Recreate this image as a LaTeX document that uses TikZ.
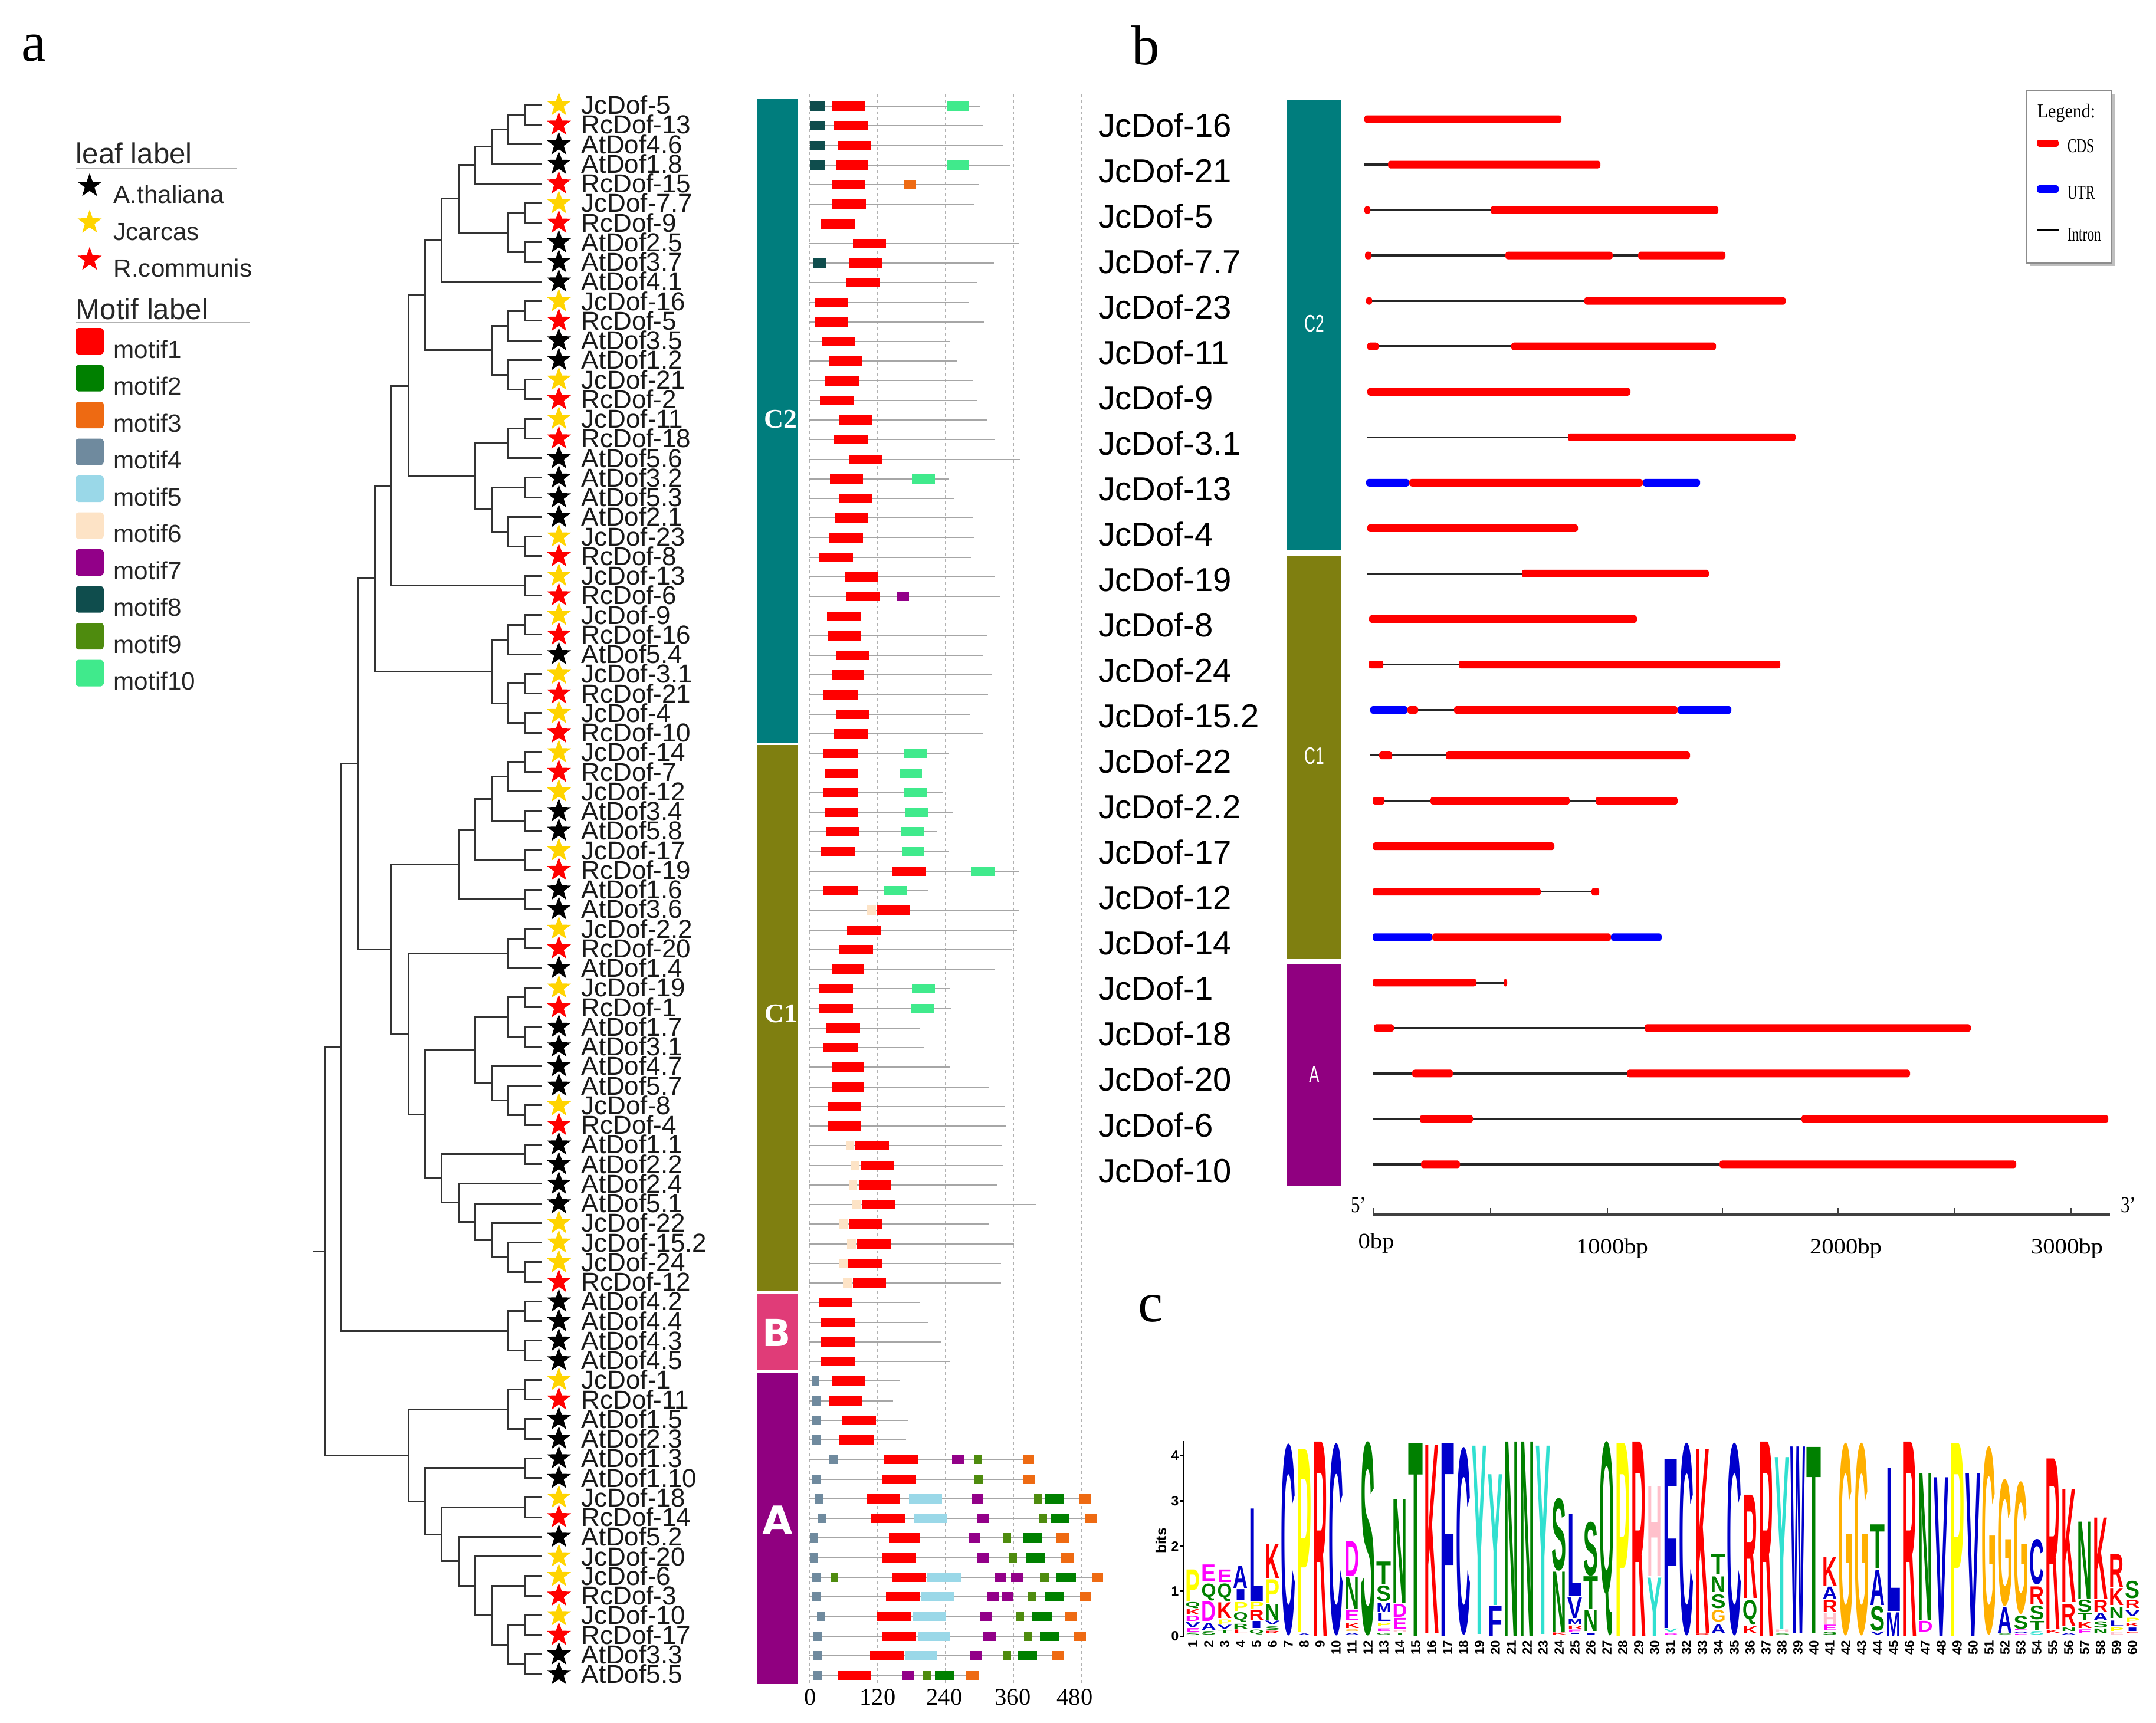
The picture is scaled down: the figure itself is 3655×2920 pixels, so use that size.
\documentclass[tikz,border=0pt]{standalone}
\usepackage{fontspec}
\setmainfont{Liberation Serif}
\newfontfamily\lsans{Liberation Sans}
\newfontfamily\dvs{DejaVu Sans}
\usepackage{graphicx}
\usetikzlibrary{calc,shapes.geometric}
\newcommand\fsz[1]{\fontsize{#1}{#1}\selectfont}
\definecolor{mc1}{HTML}{FF0000}
\definecolor{mc2}{HTML}{008000}
\definecolor{mc3}{HTML}{EE6A12}
\definecolor{mc4}{HTML}{6F8A9E}
\definecolor{mc5}{HTML}{9AD8E8}
\definecolor{mc6}{HTML}{FDE3C6}
\definecolor{mc7}{HTML}{920088}
\definecolor{mc8}{HTML}{0F4D4D}
\definecolor{mc9}{HTML}{4E8B0E}
\definecolor{mc10}{HTML}{40EA8C}
\definecolor{spJ}{HTML}{FFD400}
\definecolor{spR}{HTML}{FF0000}
\definecolor{spA}{HTML}{000000}
\definecolor{grC2}{HTML}{007D7D}
\definecolor{grC1}{HTML}{7F7F10}
\definecolor{grB}{HTML}{E03C78}
\definecolor{grA}{HTML}{900080}
\definecolor{gc}{HTML}{FF0000}
\definecolor{gu}{HTML}{0000FF}
\definecolor{lB}{HTML}{0000CC}
\definecolor{lR}{HTML}{FF0000}
\definecolor{lG}{HTML}{008000}
\definecolor{lY}{HTML}{FFFF00}
\definecolor{lO}{HTML}{FFB000}
\definecolor{lT}{HTML}{30E0D0}
\definecolor{lP}{HTML}{FFC0CB}
\definecolor{lM}{HTML}{FF00FF}
\newcount\lgc
\newcommand\treenode[4]{%
  \coordinate (tmpa) at ($(#3)!0.5!(#4)$);
  \coordinate (tmpb) at ({918.5-28.3*#2},0);
  \coordinate (#1) at (tmpb |- tmpa);
  \draw[tree] (#3) -| (#1) |- (#4);}
\newcommand\motifrow[3]{%
  \pgfmathsetmacro\ry{180+33.25*(#1-1)}%
  \draw[rowline] (1372,\ry) -- ({1372+0.9617*#2},\ry);%
  \foreach \m/\a/\b in {#3}{%
    \fill[fill=mc\m] ({1372+0.9617*\a},{\ry-8}) rectangle ({1372+0.9617*\b},{\ry+8});}%
}
\newcommand\generow[4]{%
  \pgfmathsetmacro\gy{202+77.04*(#1-1)}%
  \draw[intron] (#2,\gy) -- (#3,\gy);%
  \foreach \t/\a/\b in {#4}{%
    \fill[fill=g\t, rounded corners=1.2pt] (\a,{\gy-6.5}) rectangle (\b,{\gy+6.5});}%
}
\newcommand\logoL[5]{%
  \pgfmathtruncatemacro\lgok{((#3)-(#2))>0.045}%
  \ifnum\lgok=1
  \global\advance\lgc by 1
  \pgfmathsetlengthmacro\lgh{max(0.02cm,(#3-#2)*0.765cm-0.018cm)}%
  \node[logo, text=#5] (lg\the\lgc) at ({2022+27*(#1-1)},{2773-76.5*#2}) {\resizebox*{0.25cm}{\lgh}{\lsans\bfseries #4}};
  \fi}
\begin{document}
\begin{tikzpicture}[x=0.01cm,y=-0.01cm,
  tree/.style={draw=black!80, line width=0.85pt},
  rowline/.style={draw=black!35, line width=0.55pt},
  grid/.style={draw=black!30, line width=0.55pt, dash pattern=on 1.4pt off 1.4pt},
  intron/.style={draw=black!85, line width=1pt},
  leaflab/.style={anchor=west, inner sep=0pt, font=\lsans\fsz{12.5}, text=black!90},
  sp/.style={star, star points=5, star point ratio=2.5, minimum size=0.43cm, inner sep=0pt, draw=none},
  logo/.style={inner sep=0pt, outer sep=0pt, anchor=south},
  legtxt/.style={anchor=base west, inner sep=0pt, font=\lsans\fsz{12}, text=black!85},
  plab/.style={inner sep=0pt, font=\fsz{27}}]
\fill[white] (0,0) rectangle (3655,2920);
\useasboundingbox (0,0) rectangle (3655,2920);
% panel labels
\node[plab] (pa) at (58,82) {a};
\node[plab] (pb) at (1942,77) {b};
\node[plab] (pc) at (1951,2219) {c};
% ---------- legend a
\node[anchor=base west, inner sep=0pt, font=\lsans\fsz{14}, text=black!85] (ll) at (128,277) {leaf label};
\draw[black!30, line width=0.8pt] (128,285) -- (402,285);
\node[sp, fill=spA] (ls1) at (152,315) {};
\node[sp, fill=spJ] (ls2) at (152,377) {};
\node[sp, fill=spR] (ls3) at (152,440) {};
\node[legtxt] (lt1) at (192,344) {A.thaliana};
\node[legtxt] (lt2) at (192,407) {Jcarcas};
\node[legtxt] (lt3) at (192,469) {R.communis};
\node[anchor=base west, inner sep=0pt, font=\lsans\fsz{14}, text=black!85] (mlab) at (128,541) {Motif label};
\draw[black!30, line width=0.8pt] (128,547) -- (423,547);
\foreach \k in {1,...,10}{
  \fill[fill=mc\k, rounded corners=1.5pt] (128,{556+62.5*(\k-1)}) rectangle (176,{601+62.5*(\k-1)});
  \node[legtxt] (ml\k) at (192,{607+62.5*(\k-1)}) {motif\k};
}
% ---------- leaves
\foreach \i/\n/\s in {1/JcDof-5/J, 2/RcDof-13/R, 3/AtDof4.6/A, 4/AtDof1.8/A, 5/RcDof-15/R, 6/JcDof-7.7/J, 7/RcDof-9/R, 8/AtDof2.5/A, 9/AtDof3.7/A, 10/AtDof4.1/A, 11/JcDof-16/J, 12/RcDof-5/R, 13/AtDof3.5/A, 14/AtDof1.2/A, 15/JcDof-21/J, 16/RcDof-2/R, 17/JcDof-11/J, 18/RcDof-18/R, 19/AtDof5.6/A, 20/AtDof3.2/A, 21/AtDof5.3/A, 22/AtDof2.1/A, 23/JcDof-23/J, 24/RcDof-8/R, 25/JcDof-13/J, 26/RcDof-6/R, 27/JcDof-9/J, 28/RcDof-16/R, 29/AtDof5.4/A, 30/JcDof-3.1/J, 31/RcDof-21/R, 32/JcDof-4/J, 33/RcDof-10/R, 34/JcDof-14/J, 35/RcDof-7/R, 36/JcDof-12/J, 37/AtDof3.4/A, 38/AtDof5.8/A, 39/JcDof-17/J, 40/RcDof-19/R, 41/AtDof1.6/A, 42/AtDof3.6/A, 43/JcDof-2.2/J, 44/RcDof-20/R, 45/AtDof1.4/A, 46/JcDof-19/J, 47/RcDof-1/R, 48/AtDof1.7/A, 49/AtDof3.1/A, 50/AtDof4.7/A, 51/AtDof5.7/A, 52/JcDof-8/J, 53/RcDof-4/R, 54/AtDof1.1/A, 55/AtDof2.2/A, 56/AtDof2.4/A, 57/AtDof5.1/A, 58/JcDof-22/J, 59/JcDof-15.2/J, 60/JcDof-24/J, 61/RcDof-12/R, 62/AtDof4.2/A, 63/AtDof4.4/A, 64/AtDof4.3/A, 65/AtDof4.5/A, 66/JcDof-1/J, 67/RcDof-11/R, 68/AtDof1.5/A, 69/AtDof2.3/A, 70/AtDof1.3/A, 71/AtDof1.10/A, 72/JcDof-18/J, 73/RcDof-14/R, 74/AtDof5.2/A, 75/JcDof-20/J, 76/JcDof-6/J, 77/RcDof-3/R, 78/JcDof-10/J, 79/RcDof-17/R, 80/AtDof3.3/A, 81/AtDof5.5/A}{
  \pgfmathsetmacro\yy{178+33.25*(\i-1)}
  \coordinate (l\i) at (918.5,\yy);
  \node[sp, fill=sp\s] (s\i) at (947.5,\yy) {};
  \node[leaflab] (t\i) at (985,\yy) {\n};
}
% ---------- tree
\treenode{n1}{1}{l1}{l2}
\treenode{n2}{2}{n1}{l3}
\treenode{n3}{3}{n2}{l4}
\treenode{n4}{4}{n3}{l5}
\treenode{n5}{1}{l6}{l7}
\treenode{n6}{1}{l8}{l9}
\treenode{n7}{2}{n5}{n6}
\treenode{n8}{5}{n4}{n7}
\treenode{n9}{6}{n8}{l10}
\treenode{n10}{1}{l11}{l12}
\treenode{n11}{2}{n10}{l13}
\treenode{n12}{1}{l15}{l16}
\treenode{n13}{2}{l14}{n12}
\treenode{n14}{3}{n11}{n13}
\treenode{n15}{7}{n9}{n14}
\treenode{n16}{1}{l17}{l18}
\treenode{n17}{2}{n16}{l19}
\treenode{n18}{1}{l20}{l21}
\treenode{n19}{1}{l23}{l24}
\treenode{n20}{2}{l22}{n19}
\treenode{n21}{3}{n18}{n20}
\treenode{n22}{4}{n17}{n21}
\treenode{n23}{8}{n15}{n22}
\treenode{n24}{1}{l25}{l26}
\treenode{n25}{9}{n23}{n24}
\treenode{n26}{1}{l27}{l28}
\treenode{n27}{2}{n26}{l29}
\treenode{n28}{1}{l30}{l31}
\treenode{n29}{1}{l32}{l33}
\treenode{n30}{2}{n28}{n29}
\treenode{n31}{3}{n27}{n30}
\treenode{n32}{10}{n25}{n31}
\treenode{n33}{1}{l34}{l35}
\treenode{n34}{2}{n33}{l36}
\treenode{n35}{1}{l37}{l38}
\treenode{n36}{3}{n34}{n35}
\treenode{n37}{1}{l39}{l40}
\treenode{n38}{4}{n36}{n37}
\treenode{n39}{1}{l41}{l42}
\treenode{n40}{5}{n38}{n39}
\treenode{n41}{1}{l43}{l44}
\treenode{n42}{2}{n41}{l45}
\treenode{n43}{1}{l46}{l47}
\treenode{n44}{1}{l48}{l49}
\treenode{n45}{2}{n43}{n44}
\treenode{n46}{1}{l52}{l53}
\treenode{n47}{2}{l51}{n46}
\treenode{n48}{3}{l50}{n47}
\treenode{n49}{4}{n45}{n48}
\treenode{n50}{1}{l54}{l55}
\treenode{n51}{1}{l60}{l61}
\treenode{n52}{2}{l59}{n51}
\treenode{n53}{3}{l58}{n52}
\treenode{n54}{4}{l57}{n53}
\treenode{n55}{5}{l56}{n54}
\treenode{n56}{6}{n50}{n55}
\treenode{n57}{7}{n49}{n56}
\treenode{n58}{8}{n42}{n57}
\treenode{n59}{9}{n40}{n58}
\treenode{n60}{11}{n32}{n59}
\treenode{n61}{1}{l62}{l63}
\treenode{n62}{1}{l64}{l65}
\treenode{n63}{2}{n61}{n62}
\treenode{n64}{12}{n60}{n63}
\treenode{n65}{1}{l66}{l67}
\treenode{n66}{1}{l68}{l69}
\treenode{n67}{2}{n65}{n66}
\treenode{n68}{1}{l70}{l71}
\treenode{n69}{1}{l72}{l73}
\treenode{n70}{1}{l76}{l77}
\treenode{n71}{1}{l78}{l79}
\treenode{n72}{1}{l80}{l81}
\treenode{n73}{2}{n71}{n72}
\treenode{n74}{3}{n70}{n73}
\treenode{n75}{4}{l75}{n74}
\treenode{n76}{5}{l74}{n75}
\treenode{n77}{6}{n69}{n76}
\treenode{n78}{7}{n68}{n77}
\treenode{n79}{8}{n67}{n78}
\treenode{n80}{13}{n64}{n79}
\coordinate (rootend) at (530.6,0);
\draw[tree] (n80) -- (rootend |- n80);
% ---------- group bars a
\fill[grC2] (1284,167) rectangle (1352,1259);
\fill[grC1] (1284,1263) rectangle (1352,2189);
\fill[grB] (1284,2193) rectangle (1352,2323);
\fill[grA] (1284,2327) rectangle (1352,2855);
\node[text=white, font=\fsz{13}\bfseries] (ac2) at (1323,711) {C2};
\node[text=white, font=\fsz{13}\bfseries] (ac1) at (1324,1719) {C1};
\node[text=white, font=\dvs\bfseries\fsz{18}] (ab) at (1317,2259) {B};
\node[text=white, font=\dvs\bfseries\fsz{19}] (aa) at (1318,2577) {A};
% ---------- grid and axis a
\foreach \k/\lx in {0/1374,1/1488,2/1601,3/1717,4/1822}{
  \draw[grid] ({1372+115.4*\k},160) -- ({1372+115.4*\k},2858);
  \node[font=\fsz{11.5}, inner sep=0pt] (ax\k) at (\lx,2877) {\pgfmathparse{int(120*\k)}\pgfmathresult};
}
% ---------- motif rows
\motifrow{1}{302}{8/1/27, 1/39/98, 10/242/282}
\motifrow{2}{307}{8/1/27, 1/44/103}
\motifrow{3}{342}{8/1/27, 1/50/109}
\motifrow{4}{353}{8/1/27, 1/47/104, 10/242/282}
\motifrow{5}{298}{1/40/98, 3/166/188}
\motifrow{6}{291}{1/41/100}
\motifrow{7}{163}{1/21/80}
\motifrow{8}{370}{1/77/135}
\motifrow{9}{325}{8/6/30, 1/70/129}
\motifrow{10}{296}{1/65/124}
\motifrow{11}{282}{1/10/69}
\motifrow{12}{308}{1/10/69}
\motifrow{13}{248}{1/22/81}
\motifrow{14}{260}{1/35/94}
\motifrow{15}{288}{1/28/87}
\motifrow{16}{295}{1/19/78}
\motifrow{17}{313}{1/52/111}
\motifrow{18}{327}{1/44/103}
\motifrow{19}{372}{1/70/129}
\motifrow{20}{245}{1/36/95, 10/181/221}
\motifrow{21}{256}{1/52/111}
\motifrow{22}{288}{1/45/104}
\motifrow{23}{291}{1/35/95}
\motifrow{24}{285}{1/18/77}
\motifrow{25}{327}{1/63/121}
\motifrow{26}{336}{1/66/125, 7/155/176}
\motifrow{27}{335}{1/31/90}
\motifrow{28}{313}{1/32/91}
\motifrow{29}{307}{1/47/106}
\motifrow{30}{322}{1/39/97}
\motifrow{31}{315}{1/25/85}
\motifrow{32}{283}{1/47/106}
\motifrow{33}{307}{1/44/103}
\motifrow{34}{245}{1/25/85, 10/166/207}
\motifrow{35}{245}{1/27/86, 10/159/199}
\motifrow{36}{236}{1/25/85, 10/166/207}
\motifrow{37}{253}{1/27/86, 10/169/209}
\motifrow{38}{225}{1/30/88, 10/162/202}
\motifrow{39}{245}{1/21/81, 10/163/203}
\motifrow{40}{370}{1/146/205, 10/285/327}
\motifrow{41}{209}{1/25/85, 10/132/172}
\motifrow{42}{370}{6/101/117, 1/118/177}
\motifrow{43}{366}{1/67/126}
\motifrow{44}{357}{1/53/112}
\motifrow{45}{326}{1/39/97}
\motifrow{46}{248}{1/18/77, 10/181/221}
\motifrow{47}{250}{1/18/77, 10/180/219}
\motifrow{48}{194}{1/30/89}
\motifrow{49}{203}{1/25/85}
\motifrow{50}{247}{1/39/97}
\motifrow{51}{316}{1/39/97}
\motifrow{52}{345}{1/32/91}
\motifrow{53}{346}{1/33/92}
\motifrow{54}{339}{6/64/79, 1/81/140}
\motifrow{55}{342}{6/73/88, 1/91/149}
\motifrow{56}{331}{6/70/84, 1/87/145}
\motifrow{57}{400}{6/76/91, 1/93/151}
\motifrow{58}{316}{6/53/68, 1/70/129}
\motifrow{59}{361}{6/67/82, 1/83/143}
\motifrow{60}{338}{6/53/69, 1/69/129}
\motifrow{61}{338}{6/59/75, 1/77/135}
\motifrow{62}{194}{1/18/76}
\motifrow{63}{210}{1/21/80}
\motifrow{64}{232}{1/21/80}
\motifrow{65}{248}{1/21/80}
\motifrow{66}{160}{4/4/18, 1/40/98}
\motifrow{67}{148}{4/5/20, 1/35/94}
\motifrow{68}{175}{4/5/20, 1/58/117}
\motifrow{69}{170}{4/5/20, 1/53/113}
\motifrow{70}{396}{4/35/50, 1/132/191, 7/252/273, 9/290/305, 3/376/396}
\motifrow{71}{398}{4/5/20, 1/129/188, 9/291/306, 3/376/398}
\motifrow{72}{497}{4/10/24, 1/101/160, 5/176/234, 7/286/307, 9/396/410, 2/415/449, 3/476/497}
\motifrow{73}{507}{4/16/30, 1/109/169, 5/185/243, 7/295/316, 9/404/419, 2/425/458, 3/486/507}
\motifrow{74}{457}{4/2/16, 1/140/194, 7/282/302, 9/342/356, 2/376/410, 3/436/457}
\motifrow{75}{466}{4/2/16, 1/129/188, 7/295/316, 9/351/366, 2/382/416, 3/444/466}
\motifrow{76}{518}{4/5/20, 9/37/51, 1/147/206, 5/208/267, 7/326/347, 7/356/376, 9/407/422, 2/436/470, 3/498/518}
\motifrow{77}{497}{4/5/20, 1/135/194, 5/197/256, 7/313/334, 7/339/359, 9/386/400, 2/415/449, 3/477/497}
\motifrow{78}{471}{4/13/27, 1/120/180, 5/182/240, 7/300/321, 9/364/378, 2/393/427, 3/451/471}
\motifrow{79}{488}{4/7/22, 1/129/188, 5/191/249, 7/307/329, 9/378/393, 2/407/441, 3/467/488}
\motifrow{80}{448}{4/7/22, 1/107/166, 5/168/226, 7/283/304, 9/342/356, 2/367/401, 3/427/448}
\motifrow{81}{298}{4/7/22, 1/50/109, 7/163/184, 9/200/214, 2/221/256, 3/277/298}
% ---------- panel b
\foreach \i/\n in {1/JcDof-16, 2/JcDof-21, 3/JcDof-5, 4/JcDof-7.7, 5/JcDof-23, 6/JcDof-11, 7/JcDof-9, 8/JcDof-3.1, 9/JcDof-13, 10/JcDof-4, 11/JcDof-19, 12/JcDof-8, 13/JcDof-24, 14/JcDof-15.2, 15/JcDof-22, 16/JcDof-2.2, 17/JcDof-17, 18/JcDof-12, 19/JcDof-14, 20/JcDof-1, 21/JcDof-18, 22/JcDof-20, 23/JcDof-6, 24/JcDof-10}{
  \node[anchor=west, inner sep=0pt, font=\lsans\fsz{16}] (g\i) at (1862,{212+77.04*(\i-1)}) {\n};
}
\fill[grC2] (2181,170) rectangle (2274,933);
\fill[grC1] (2181,942) rectangle (2274,1626);
\fill[grA] (2181,1634) rectangle (2274,2011);
\node[text=white, inner sep=0pt] (bc2) at (2228,549) {\scalebox{0.65}[1]{\lsans\fsz{11.5}C2}};
\node[text=white, inner sep=0pt] (bc1) at (2228,1282) {\scalebox{0.65}[1]{\lsans\fsz{11.5}C1}};
\node[text=white, inner sep=0pt] (ba) at (2228,1822) {\scalebox{0.65}[1]{\lsans\fsz{11.5}A}};
\generow{1}{2313}{2647}{c/2313/2647}
\generow{2}{2313}{2713}{c/2353/2713}
\generow{3}{2313}{2913}{c/2313/2323, c/2527/2913}
\generow{4}{2314}{2925}{c/2314/2325, c/2552/2734, c/2777/2925}
\generow{5}{2316}{3027}{c/2316/2326, c/2686/3027}
\generow{6}{2318}{2909}{c/2318/2337, c/2562/2909}
\generow{7}{2318}{2764}{c/2318/2764}
\generow{8}{2318}{3044}{c/2658/3044}
\generow{9}{2316}{2882}{u/2316/2389, c/2389/2785, u/2785/2882}
\generow{10}{2318}{2675}{c/2318/2675}
\generow{11}{2318}{2897}{c/2580/2897}
\generow{12}{2321}{2775}{c/2321/2775}
\generow{13}{2320}{3018}{c/2320/2345, c/2473/3018}
\generow{14}{2323}{2935}{u/2323/2386, c/2386/2404, c/2465/2844, u/2844/2935}
\generow{15}{2323}{2865}{c/2338/2360, c/2451/2865}
\generow{16}{2327}{2844}{c/2327/2347, c/2425/2661, c/2705/2844}
\generow{17}{2327}{2635}{c/2327/2635}
\generow{18}{2327}{2711}{c/2327/2612, c/2698/2711}
\generow{19}{2327}{2817}{u/2327/2428, c/2428/2731, u/2731/2817}
\generow{20}{2327}{2555}{c/2327/2503, c/2549/2555}
\generow{21}{2329}{3341}{c/2329/2363, c/2788/3341}
\generow{22}{2327}{3238}{c/2394/2463, c/2758/3238}
\generow{23}{2327}{3574}{c/2407/2497, c/3054/3574}
\generow{24}{2327}{3418}{c/2409/2475, c/2915/3418}
% axis b
\draw[black!75, line width=0.9pt] (2328,2059) -- (3577,2059);
\foreach \t in {2328,2527,2725,2920,3116,3314,3511}{\draw[black!75, line width=0.6pt] (\t,2059) -- (\t,2048);}
\node[inner sep=0pt] (b5) at (2303,2043) {\scalebox{0.8}[1]{\fsz{11}5'}};
\node[inner sep=0pt] (b3) at (3608,2043) {\scalebox{0.8}[1]{\fsz{11}3'}};
\node[inner sep=0pt] (bx0) at (2333,2108) {\scalebox{1.1}[1]{\fsz{10.5}0bp}};
\node[inner sep=0pt] (bx1) at (2733,2117) {\scalebox{1.1}[1]{\fsz{10.5}1000bp}};
\node[inner sep=0pt] (bx2) at (3129,2117) {\scalebox{1.1}[1]{\fsz{10.5}2000bp}};
\node[inner sep=0pt] (bx3) at (3504,2117) {\scalebox{1.1}[1]{\fsz{10.5}3000bp}};
% legend b
\fill[black!25] (3441,159) rectangle (3585,451);
\draw[fill=white, draw=black!45, line width=0.6pt] (3436,154) rectangle (3580,446);
\node[anchor=base west, inner sep=0pt] (lgd) at (3453,199) {\scalebox{0.9}[1]{\fsz{9.5}Legend:}};
\fill[gc, rounded corners=1.2pt] (3453,237) rectangle (3490,249);
\node[anchor=base west, inner sep=0pt] (lgc) at (3504,258) {\scalebox{0.7}[1]{\fsz{9.5}CDS}};
\fill[gu, rounded corners=1.2pt] (3453,314) rectangle (3490,327);
\node[anchor=base west, inner sep=0pt] (lgu) at (3504,337) {\scalebox{0.7}[1]{\fsz{9.5}UTR}};
\draw[black, line width=1.1pt] (3453,390) -- (3490,390);
\node[anchor=base west, inner sep=0pt] (lgi) at (3504,408) {\scalebox{0.7}[1]{\fsz{9.5}Intron}};
% ---------- panel c logo
\draw[line width=0.6pt] (2007,2443) -- (2007,2774);
\foreach \b in {0,...,4}{
  \draw[line width=0.6pt] (2001,{2774-76.5*\b}) -- (2007,{2774-76.5*\b});
  \node[anchor=east, inner sep=0pt, font=\lsans\bfseries\fsz{6.5}] (yb\b) at (1999,{2774-76.5*\b}) {\b};
}
\node[rotate=90, inner sep=0pt, font=\lsans\bfseries\fsz{7}] (bits) at (1968,2612) {bits};
\foreach \p in {1,...,60}{
  \node[rotate=90, anchor=east, inner sep=0pt, font=\lsans\bfseries\fsz{6.3}] (pn\p) at ({2022+27*(\p-1)},2780) {\p};
}
\foreach \p/\a/\b/\c/\k in {
1/0/0.08/S/lG, 1/0.08/0.18/E/lM, 1/0.18/0.32/V/lB, 1/0.32/0.46/D/lM, 1/0.46/0.6/K/lR, 1/0.6/0.76/Q/lG, 1/0.76/1.48/P/lY,
2/0.02/0.12/S/lG, 2/0.12/0.3/A/lB, 2/0.32/0.78/D/lM, 2/0.78/1.18/Q/lG, 2/1.2/1.6/E/lM,
3/0.05/0.15/T/lG, 3/0.15/0.26/V/lB, 3/0.26/0.38/P/lY, 3/0.39/0.76/K/lR, 3/0.76/1.18/Q/lG, 3/1.18/1.48/E/lM,
4/0.04/0.15/L/lR, 4/0.15/0.28/R/lG, 4/0.3/0.54/Q/lG, 4/0.54/0.76/P/lY, 4/0.78/1.05/I/lB, 4/1.05/1.57/A/lB,
5/0.02/0.15/Q/lG, 5/0.17/0.35/I/lB, 5/0.35/0.59/R/lR, 5/0.59/0.76/P/lY, 5/0.76/2.83/L/lB,
6/0.04/0.12/R/lR, 6/0.12/0.22/S/lG, 6/0.24/0.35/V/lB, 6/0.35/0.72/N/lG, 6/0.72/1.26/P/lY, 6/1.26/2.05/K/lR,
7/0/4.27/C/lB, 8/0/0.06/A/lB, 8/0.08/4.14/P/lY, 9/0/4.32/R/lR, 10/0/4.28/C/lB,
11/0.02/0.08/A/lB, 11/0.1/0.16/G/lO, 11/0.17/0.3/K/lR, 11/0.33/0.59/E/lM, 11/0.59/1.31/N/lG, 11/1.31/2.11/D/lM,
12/0/4.32/S/lG,
13/0.02/0.08/G/lG, 13/0.1/0.18/E/lM, 13/0.2/0.3/P/lY, 13/0.32/0.52/L/lB, 13/0.52/0.74/M/lB, 13/0.76/1.13/S/lG, 13/1.13/1.66/T/lG,
14/0.02/0.08/T/lG, 14/0.08/0.14/H/lP, 14/0.15/0.41/E/lM, 14/0.41/0.72/D/lM, 14/0.72/3.03/N/lG,
15/0/4.28/T/lG, 16/0/0.04/R/lR, 16/0.04/4.23/K/lR, 17/0/4.29/F/lB,
18/0/0.02/S/lG, 18/0.02/4.2/C/lB, 19/0/0.03/F/lB, 19/0.03/4.22/Y/lT,
20/0/0.68/F/lB, 20/0.68/3.6/Y/lT, 21/0/4.32/N/lG, 22/0/4.32/N/lG,
23/0/0.03/S/lG, 23/0.03/4.22/Y/lT,
24/0.02/0.09/K/lR, 24/0.09/1.44/N/lG, 24/1.44/3.07/S/lG,
25/0.02/0.07/I/lB, 25/0.07/0.15/E/lM, 25/0.15/0.24/R/lR, 25/0.26/0.39/M/lB, 25/0.39/0.87/V/lB, 25/0.87/2.72/L/lB,
26/0.02/0.08/I/lB, 26/0.1/0.59/N/lG, 26/0.59/1.33/T/lG, 26/1.33/2.55/S/lG,
27/0/4.32/Q/lG, 28/0/4.29/P/lY, 29/0/4.32/R/lR,
30/0/1.31/Y/lT, 30/1.31/3.33/H/lP,
31/0/0.06/P/lM, 31/0.08/0.17/V/lT, 31/0.17/3.94/F/lB,
32/0/4.29/C/lB, 33/0/0.06/R/lR, 33/0.06/4.15/K/lR,
34/0.04/0.26/A/lB, 34/0.3/0.59/G/lO, 34/0.61/0.94/S/lG, 34/0.96/1.33/N/lG, 34/1.35/1.83/T/lG,
35/0/4.29/C/lB,
36/0.04/0.22/K/lR, 36/0.24/0.81/Q/lG, 36/0.83/3.14/R/lR,
37/0/4.32/R/lR,
38/0.02/0.08/S/lG, 38/0.08/0.15/H/lP, 38/0.15/3.97/Y/lT,
39/0/0.04/F/lB, 39/0.04/4.2/W/lB, 40/0/0.04/P/lY, 40/0.04/4.19/T/lG,
41/0.02/0.1/S/lG, 41/0.11/0.26/E/lM, 41/0.26/0.52/H/lP, 41/0.52/0.81/R/lR, 41/0.81/1.11/A/lB, 41/1.11/1.76/K/lR,
42/0/4.29/G/lO, 43/0/4.29/G/lO,
44/0.02/0.11/V/lB, 44/0.11/0.68/S/lG, 44/0.68/1.48/A/lB, 44/1.48/2.48/T/lG,
45/0/0.54/M/lB, 45/0.54/3.73/L/lB, 46/0/4.32/R/lR,
47/0.02/0.06/V/lB, 47/0.06/0.09/S/lG, 47/0.09/0.35/D/lM, 47/0.35/3.62/N/lG,
48/0/3.53/V/lB, 49/0/4.29/P/lY, 50/0/3.62/V/lB,
51/0/0.02/S/lG, 51/0.02/4.22/G/lO,
52/0/0.06/S/lG, 52/0.06/0.65/A/lB, 52/0.65/3.49/G/lO,
53/0/0.05/E/lM, 53/0.05/0.1/A/lB, 53/0.1/0.15/E/lM, 53/0.15/0.46/S/lG, 53/0.48/3.44/G/lO,
54/0.02/0.12/S/lT, 54/0.13/0.35/T/lG, 54/0.35/0.68/S/lG, 54/0.7/1.11/R/lR, 54/1.13/2.16/C/lB,
55/0.02/0.06/E/lM, 55/0.06/0.15/K/lR, 55/0.15/3.94/R/lR,
56/0.02/0.08/A/lB, 56/0.1/0.2/N/lG, 56/0.22/0.72/R/lR, 56/0.74/3.27/K/lR,
57/0.04/0.15/E/lM, 57/0.17/0.33/K/lR, 57/0.35/0.52/T/lG, 57/0.52/0.81/S/lG, 57/0.81/2.55/N/lG,
58/0.04/0.17/N/lG, 58/0.17/0.33/S/lG, 58/0.33/0.52/A/lB, 58/0.52/0.81/R/lR, 58/0.81/2.64/K/lR,
59/0.02/0.1/E/lP, 59/0.1/0.2/P/lY, 59/0.2/0.35/L/lB, 59/0.39/0.65/N/lG, 59/0.67/1.07/K/lR, 59/1.07/1.83/R/lR,
60/0.04/0.1/E/lR, 60/0.1/0.2/I/lB, 60/0.2/0.3/K/lR, 60/0.3/0.42/P/lY, 60/0.42/0.58/V/lB, 60/0.61/0.81/R/lR, 60/0.83/1.24/S/lG}{
  \logoL{\p}{\a}{\b}{\c}{\k}
}
\end{tikzpicture}
\end{document}
